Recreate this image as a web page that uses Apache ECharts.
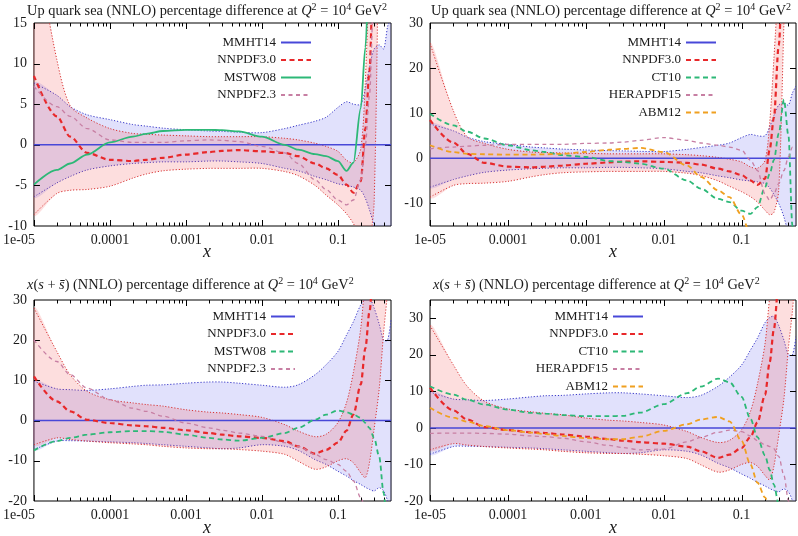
<!DOCTYPE html>
<html><head><meta charset="utf-8">
<script src="https://cdn.jsdelivr.net/npm/echarts@6/dist/echarts.min.js"></script>
<style>
html,body{margin:0;padding:0;background:#fff;width:798px;height:536px;overflow:hidden}
.p{position:absolute;width:399px;height:268px}
</style></head>
<body>
<div id="c1" class="p" style="left:0;top:0"></div>
<div id="c2" class="p" style="left:399px;top:0"></div>
<div id="c3" class="p" style="left:0;top:268px"></div>
<div id="c4" class="p" style="left:399px;top:268px"></div>
<script>
// ---------- data (x grid shared by every curve) ----------
const xs = [1e-5,2e-5,3e-5,5e-5,1e-4,2e-4,3e-4,5e-4,1e-3,2e-3,3e-3,5e-3,0.01,0.02,0.03,0.05,0.07,0.1,0.13,0.16,0.2,0.23,0.26,0.3,0.35,0.4,0.45,0.5];
const xTickLabels = ['1e-05','0.0001','0.001','0.01','0.1'];

// up quark sea
const upMmhtHi = [7.6,6.1,4.7,3.7,3.1,2.5,2.3,2.05,1.85,1.7,1.65,1.55,1.5,2.0,2.4,2.9,3.4,4.6,5.3,5.0,5.0,7.0,9.5,11.8,12.3,11.8,14.5,16.0];
const upMmhtLo = [-6.4,-4.7,-3.9,-3.1,-2.6,-2.3,-2.2,-2.1,-2.1,-2.0,-2.0,-2.1,-2.3,-2.9,-3.2,-3.9,-4.3,-4.8,-5.0,-5.2,-5.6,-6.6,-8.0,-10.0,-13.0,-17.0,-21.0,-25.0];
const upMmhtC  = [0,0,0,0,0,0,0,0,0,0,0,0,0,0,0,0,0,0,0,0,0,0,0,0,0,0,0,0];
const upNnHi   = [25.5,10.5,4.8,3.3,2.0,1.4,1.3,1.2,1.1,1.0,1.0,1.0,1.0,0.8,0.6,0.2,-0.2,-0.8,-1.9,-2.2,-0.5,8,22,40,60,80,100,120];
const upNnLo   = [-8.6,-6.0,-5.6,-5.5,-5.1,-4.1,-3.6,-3.2,-3.0,-2.9,-2.9,-2.9,-2.9,-3.3,-3.8,-5.0,-6.2,-7.4,-8.5,-9.7,-11.5,-12.5,-12.0,-7.0,30,60,90,120];
const upNnC    = [8.5,3.5,1.0,-1.0,-1.85,-2.0,-1.85,-1.6,-1.2,-0.9,-0.75,-0.65,-0.8,-1.0,-1.4,-2.3,-2.9,-3.7,-4.9,-5.9,-4.5,2,9,25,50,80,110,140];
const upMstw08 = [-4.9,-3.1,-2.3,-1.2,0.3,1.0,1.35,1.7,1.85,1.85,1.8,1.65,1.0,0.0,-0.6,-1.15,-1.4,-2.0,-3.2,-2.2,4.5,12,22,35,50,65,80,95];
const upNn23   = [7.2,4.7,3.5,2.0,0.6,0.3,0.3,0.3,0.5,0.6,0.55,0.4,-0.2,-1.0,-2.3,-4.3,-5.5,-6.8,-7.4,-6.8,-4.3,0,6,20,35,50,65,80];
const upCt10   = [9.9,7.3,5.9,4.4,2.9,1.8,1.4,0.7,0.3,-0.6,-0.8,-1.2,-2.3,-4.9,-6.7,-9.0,-9.7,-11.6,-12.3,-10.8,-6.4,-3.4,-0.4,5.5,13,5,-15,-30];
const upHera15 = [2.1,2.5,2.7,2.9,3.1,3.1,3.1,3.1,3.3,3.4,3.6,4.0,4.6,4.0,3.4,2.9,2.5,1.8,-0.4,-2.7,-7.9,-9.3,-7.9,-5.6,-2.7,0.3,2.5,2.5];
const upAbm12  = [2.9,1.4,1.0,0.9,0.8,0.8,0.9,1.0,1.4,1.9,2.1,2.3,1.4,-1.6,-4.1,-7.1,-8.6,-12.5,-17,-21,-26,-30,-34,-38,-42,-46,-50,-54];

// strange x(s+sbar)
const sMmhtHi = [9.8,7.9,7.7,7.5,7.9,8.5,8.8,8.9,9.3,9.6,9.6,9.3,8.8,8.3,8.9,11.4,13.9,17.2,21.3,24.6,28.8,30.2,30.5,28,24,20,20,25];
const sMmhtLo = [-7.2,-5.1,-5.0,-5.1,-5.3,-5.5,-5.7,-6.0,-6.4,-6.8,-7.0,-6.8,-6.0,-6.4,-7.4,-9.7,-10.9,-12.6,-13.8,-14.9,-15.9,-16.6,-17.1,-17.5,-16.7,-17.5,-20,-25];
const sMmhtC  = [0,0,0,0,0,0,0,0,0,0,0,0,0,0,0,0,0,0,0,0,0,0,0,0,0,0,0,0];
const sNnHi   = [28,17.2,11.4,7.3,5.2,4.4,4.0,3.6,2.7,2.1,1.9,1.5,0.8,-1.0,-2.6,-4.0,-3.4,-0.5,4.5,12,23,36,45,50,55,60,65,70];
const sNnLo   = [-6.0,-4.3,-4.7,-5.1,-5.5,-5.8,-6.0,-6.4,-6.8,-7.0,-7.0,-7.2,-7.6,-8.4,-10.1,-12.1,-11.5,-10.0,-9.5,-10.5,-13.0,-14.2,-10.5,-2.0,8,22,32,45];
const sNnC    = [11,4.8,2.3,0.2,-0.6,-1.2,-1.4,-1.8,-2.4,-3.1,-3.5,-3.9,-4.3,-5.1,-6.4,-8.2,-7.3,-5.5,-2.5,1.5,9,18,27,40,55,70,85,100];
const sMstw08 = [-7.4,-5.1,-4.3,-3.5,-2.9,-2.6,-2.6,-2.8,-3.5,-4.3,-4.7,-5.0,-4.3,-3.1,-1.8,0.2,1.5,2.5,2.1,1.5,0.7,-0.6,-1.8,-4.3,-9,-18,-28,-38];
const sNn23   = [20.1,14.7,11.4,8.1,5.2,3.1,2.3,1.1,-0.6,-1.8,-2.4,-3.1,-3.9,-5.5,-6.4,-8.4,-9.7,-10.9,-12.6,-15.0,-19.2,-22,-25,-28,-31,-34,-37,-40];
const sCt10   = [11.4,9.1,7.7,6.4,5.0,4.1,3.9,3.5,3.2,3.2,3.3,4.2,6.5,9.5,11.3,13.5,12.5,8.5,2.5,-2.5,-7.5,-11.5,-15.5,-21,-27,-33,-39,-45];
const sHera15 = [-1.5,-1.4,-1.4,-1.5,-1.7,-2.2,-2.4,-2.8,-3.8,-4.8,-5.4,-6.0,-5.8,-3.8,-2.6,-1.2,-0.6,-1.0,-2.2,-3.5,-4.6,-5.1,-5.7,-7.8,-13,-20,-28,-36];
const sAbm12  = [5.5,2.8,1.7,0.5,-0.6,-1.3,-1.7,-2.2,-2.8,-3.1,-3.1,-2.4,-0.8,1.0,2.3,3.0,1.8,-3.5,-10,-15,-19,-22,-26,-30,-34,-38,-42,-46];

// ---------- styling ----------
const FONT = 'Liberation Serif';
const TXT = '#1a1a1a';
const C = {
  blue:'#4848d8', blueDot:'#3a3ac8', blueFill:'rgba(80,80,235,0.17)',
  red:'#e8282a', redDot:'#d83434', redFill:'rgba(245,80,80,0.19)',
  green:'#2db877', mauve:'#c77fa3', orange:'#f0a020'
};
const X_MIN = 1e-5, X_MAX = 0.5;

function pairs(arr){ return xs.map((x,i)=>[x, arr[i]]); }

function lineSeries(name, arr, color, width, dash){
  return {name, type:'line', data:pairs(arr), symbol:'none', showSymbol:false,
    smooth:0.3, smoothMonotone:'x', silent:true, animation:false,
    lineStyle:{color, width, type: dash || 'solid'}, itemStyle:{color},
    emphasis:{disabled:true}};
}

function bandSeries(lo, hi, edge, fill){
  return {type:'custom', clip:true, silent:true, animation:false,
    data:[[xs[0], 0]],
    renderItem:(params, api)=>{
      const up = xs.map((x,i)=>api.coord([x, hi[i]]));
      const dn = xs.map((x,i)=>api.coord([x, lo[i]]));
      const poly = up.concat(dn.slice().reverse());
      const ls = {stroke:edge, lineWidth:1, lineDash:[1.2,1.8], fill:null};
      return {type:'group', children:[
        {type:'polygon', shape:{points:poly, smooth:0.3}, style:{fill, stroke:null}},
        {type:'polyline', shape:{points:up, smooth:0.3}, style:ls},
        {type:'polyline', shape:{points:dn, smooth:0.3}, style:ls}
      ]};
    }};
}

function tickSeries(yMin, yStepMajor, yMax){
  const data = [];
  for (let d=-5; d<=-1; d++){
    data.push([Math.pow(10,d), yMin, 0, 6]);
    for (let k=2;k<=9;k++){ const v=k*Math.pow(10,d); if (v < X_MAX) data.push([v, yMin, 0, 3.5]); }
  }
  for (let v=Math.ceil(yMin/yStepMajor)*yStepMajor; v<yMax; v+=yStepMajor){
    if (v > yMin) data.push([X_MIN, v, 1, 6]);
  }
  return {type:'custom', clip:false, silent:true, animation:false, data,
    renderItem:(params, api)=>{
      const cs = params.coordSys;
      const p = api.coord([api.value(0), api.value(1)]);
      const len = api.value(3);
      const st = {stroke:'#000', lineWidth:1};
      if (api.value(2) === 0){
        const x = Math.round(p[0]) + 0.5, yb = cs.y + cs.height, yt = cs.y;
        return {type:'group', children:[
          {type:'line', shape:{x1:x,y1:yb,x2:x,y2:yb-len}, style:st},
          {type:'line', shape:{x1:x,y1:yt,x2:x,y2:yt+len}, style:st}]};
      } else {
        const y = Math.round(p[1]) + 0.5, xl = cs.x, xr = cs.x + cs.width;
        return {type:'group', children:[
          {type:'line', shape:{x1:xl,y1:y,x2:xl+len,y2:y}, style:st},
          {type:'line', shape:{x1:xr,y1:y,x2:xr-len,y2:y}, style:st}]};
      }
    }};
}

const richBase = {
  n:{fontFamily:FONT, fontSize:14.4, fill:TXT, lineHeight:18},
  i:{fontFamily:FONT, fontSize:14.4, fontStyle:'italic', fill:TXT, lineHeight:18},
  s:{fontFamily:FONT, fontSize:10, fill:TXT, lineHeight:11, verticalAlign:'top'}
};
const titleUp = '{n|Up quark sea (NNLO) percentage difference at }{i|Q}{s|2}{n| = 10}{s|4}{n| GeV}{s|2}';
const titleS  = '{i|x}{n|(}{i|s}{n| + }{i|s\u0304}{n|) (NNLO) percentage difference at }{i|Q}{s|2}{n| = 10}{s|4}{n| GeV}{s|2}';

function build(cfg){
  const grid = cfg.grid;
  const series = [
    bandSeries(cfg.mmhtLo, cfg.mmhtHi, C.blueDot, C.blueFill),
    bandSeries(cfg.nnLo, cfg.nnHi, C.redDot, C.redFill),
    lineSeries('MMHT14', cfg.mmhtC, C.blue, 1.5)
  ].concat(cfg.lines.map(l=>lineSeries(l[0], l[1], l[2], l[3], l[4])))
   .concat([tickSeries(cfg.yMin, cfg.yMajor, cfg.yMax)]);
  const w = 399, plotW = w - grid.left - grid.right;
  const lblStyle = {fontFamily:FONT, fontSize:14, color:TXT};
  return {
    animation:false,
    backgroundColor:'#fff',
    grid:{left:grid.left, right:grid.right, top:grid.top, bottom:grid.bottom, show:true, borderColor:'#000', borderWidth:1, backgroundColor:'transparent'},
    xAxis:{type:'log', logBase:10, min:X_MIN, max:X_MAX,
      axisLine:{show:false}, axisTick:{show:false}, splitLine:{show:false},
      axisLabel:Object.assign({show:true, showMaxLabel:false, margin:7,
        rich:{first:Object.assign({padding:[0,30,0,0]}, lblStyle)},
        formatter:(v)=>{
          const e = Math.round(Math.log10(v));
          if (e < -5 || e > -1) return '';
          const t = xTickLabels[e+5];
          return (e === -5 && cfg.shiftFirst) ? '{first|' + t + '}' : t;
        }}, lblStyle)},
    yAxis:{type:'value', min:cfg.yMin, max:cfg.yMax, interval:cfg.yStep,
      axisLine:{show:false}, axisTick:{show:false}, splitLine:{show:false},
      axisLabel:Object.assign({margin:7,
        formatter:(v)=> (Math.abs(v % cfg.yMajor) < 1e-9) ? String(v) : ''}, lblStyle)},
    legend:{orient:'vertical', align:'right', right:cfg.legRight, top:cfg.legTop, padding:0,
      itemWidth:cfg.legW, itemHeight:12, itemGap:4.5, selectedMode:false,
      itemStyle:{opacity:0},
      textStyle:{fontFamily:FONT, fontSize:13, color:TXT},
      data:['MMHT14','NNPDF3.0'].concat(cfg.lines.map(l=>l[0]))},
    graphic:[
      {type:'text', x:cfg.titleX, y:cfg.titleY, silent:true,
        style:{text:cfg.title, rich:richBase, align:'left', verticalAlign:'middle'}},
      {type:'text', x:grid.left + plotW/2, y:cfg.xNameY, silent:true,
        style:{text:'x', fontFamily:FONT, fontSize:18, fontStyle:'italic', fill:TXT, align:'center', verticalAlign:'middle'}}
    ],
    series
  };
}

const RD = [5,3.5], GD = [5,3.5], MD = [4,3.5], OD = [5,3.5];
const panels = [
  {el:'c1', grid:{left:23,right:8,top:23,bottom:42}, yMin:-10, yMax:15, yStep:5, yMajor:5, shiftFirst:true,
   mmhtHi:upMmhtHi, mmhtLo:upMmhtLo, mmhtC:upMmhtC, nnHi:upNnHi, nnLo:upNnLo,
   lines:[['NNPDF3.0',upNnC,C.red,2.2,RD],['MSTW08',upMstw08,C.green,1.8],['NNPDF2.3',upNn23,C.mauve,1.3,MD]],
   legRight:87, legTop:36, legW:30, title:titleUp, titleX:27, titleY:11, xNameY:252},
  {el:'c2', grid:{left:31,right:2,top:23,bottom:42}, yMin:-15, yMax:30, yStep:5, yMajor:10, shiftFirst:false,
   mmhtHi:upMmhtHi, mmhtLo:upMmhtLo, mmhtC:upMmhtC, nnHi:upNnHi, nnLo:upNnLo,
   lines:[['NNPDF3.0',upNnC,C.red,2.2,RD],['CT10',upCt10,C.green,1.8,GD],['HERAPDF15',upHera15,C.mauve,1.3,MD],['ABM12',upAbm12,C.orange,1.8,OD]],
   legRight:81, legTop:36, legW:30, title:titleUp, titleX:32, titleY:11, xNameY:252},
  {el:'c3', grid:{left:23,right:8,top:32,bottom:35}, yMin:-20, yMax:30, yStep:10, yMajor:10, shiftFirst:true,
   mmhtHi:sMmhtHi, mmhtLo:sMmhtLo, mmhtC:sMmhtC, nnHi:sNnHi, nnLo:sNnLo,
   lines:[['NNPDF3.0',sNnC,C.red,2.2,RD],['MSTW08',sMstw08,C.green,1.8,GD],['NNPDF2.3',sNn23,C.mauve,1.3,MD]],
   legRight:103, legTop:42, legW:24, title:titleS, titleX:27, titleY:17, xNameY:260},
  {el:'c4', grid:{left:31,right:2,top:32,bottom:35}, yMin:-20, yMax:35, yStep:10, yMajor:10, shiftFirst:false,
   mmhtHi:sMmhtHi, mmhtLo:sMmhtLo, mmhtC:sMmhtC, nnHi:sNnHi, nnLo:sNnLo,
   lines:[['NNPDF3.0',sNnC,C.red,2.2,RD],['CT10',sCt10,C.green,1.8,GD],['HERAPDF15',sHera15,C.mauve,1.3,MD],['ABM12',sAbm12,C.orange,1.8,OD]],
   legRight:154, legTop:42, legW:30, title:titleS, titleX:34, titleY:17, xNameY:260}
];

panels.forEach(p=>{
  const chart = echarts.init(document.getElementById(p.el), null, {renderer:'canvas', width:399, height:268});
  chart.setOption(build(p));
});
</script>
</body></html>
